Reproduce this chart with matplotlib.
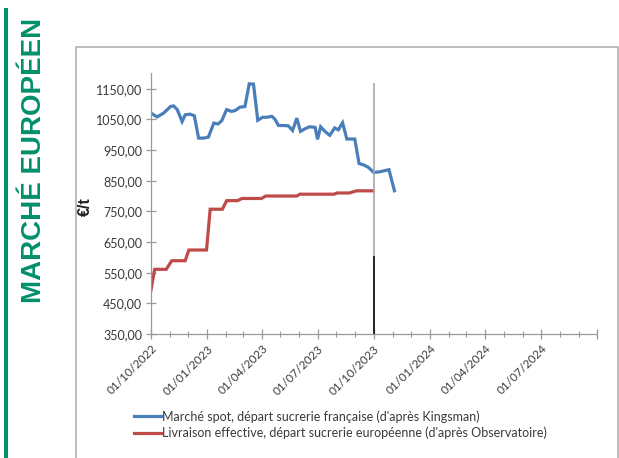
import numpy as np
import matplotlib
matplotlib.use("Agg")
import matplotlib.pyplot as plt
import matplotlib.dates as mdates
from matplotlib.lines import Line2D
from matplotlib.patches import Rectangle

# Marché spot (blue)
spot_dates = ["2022-10-03", "2022-10-11", "2022-10-22", "2022-11-02", "2022-11-07", "2022-11-13",
              "2022-11-21", "2022-11-26", "2022-12-04", "2022-12-11", "2022-12-18", "2022-12-26",
              "2023-01-03", "2023-01-12", "2023-01-19", "2023-01-25", "2023-02-02", "2023-02-10",
              "2023-02-16", "2023-02-24", "2023-03-04", "2023-03-11", "2023-03-18", "2023-03-25",
              "2023-04-02", "2023-04-09", "2023-04-17", "2023-04-22", "2023-04-28", "2023-05-06",
              "2023-05-14", "2023-05-21", "2023-05-28", "2023-06-03", "2023-06-10", "2023-06-18",
              "2023-06-27", "2023-07-01", "2023-07-06", "2023-07-13", "2023-07-21", "2023-07-29",
              "2023-08-04", "2023-08-11", "2023-08-18", "2023-08-31", "2023-09-07", "2023-09-14",
              "2023-09-22", "2023-10-01", "2023-10-11", "2023-10-26", "2023-11-04"]
spot_values = [1068, 1058, 1071, 1092, 1094, 1082,
               1043, 1065, 1067, 1062, 989, 989,
               992, 1038, 1035, 1046, 1082, 1076,
               1079, 1090, 1092, 1166, 1165, 1047,
               1057, 1057, 1060, 1051, 1030, 1030,
               1029, 1014, 1054, 1011, 1019, 1026,
               1024, 985, 1026, 1011, 998, 1022,
               1016, 1039, 986, 986, 906, 902,
               894, 877, 879, 886, 817]

# Livraison effective (red)
deliv_dates = ["2022-10-01", "2022-10-07", "2022-10-26", "2022-11-04", "2022-11-26", "2022-12-02",
               "2022-12-31", "2023-01-06", "2023-01-26", "2023-02-02", "2023-02-20", "2023-02-27",
               "2023-03-31", "2023-04-07", "2023-05-28", "2023-06-02", "2023-07-28", "2023-08-02",
               "2023-08-22", "2023-09-03", "2023-09-30"]
deliv_values = [493, 561, 561, 589, 589, 624,
                624, 757, 757, 785, 785, 792,
                792, 800, 800, 806, 806, 810,
                810, 817, 817]

y_ticks = [350, 450, 550, 650, 750, 850, 950, 1050, 1150]
x_ticks = ["2022-10-01", "2023-01-01", "2023-04-01", "2023-07-01", "2023-10-01",
           "2024-01-01", "2024-04-01", "2024-07-01"]
marker_date = "2023-10-01"

spot_label = "Marché spot, départ sucrerie française (d'après Kingsman)"
deliv_label = "Livraison effective, départ sucrerie européenne (d'après Observatoire)"

blue = "#4A7EBB"
red = "#BE4B48"
green = "#00906A"
grey_txt = "#3a3a3a"
grey_ax = "#9a9a9a"

plt.rcParams['font.family'] = ['Lato', 'DejaVu Sans']

fig = plt.figure(figsize=(6.19, 4.58), dpi=100)
W, H = 619, 458

# page decorations: green bar, vertical title, chart frame
fig.add_artist(Rectangle((4 / W, 0), 4 / W, 1 - 8 / H, transform=fig.transFigure,
                         color=green, lw=0))
fig.text(34 / W, 1 - 160 / H, "MARCHÉ EUROPÉEN", rotation=90, ha="center", va="center",
         color=green, fontsize=20, fontweight="bold",
         family=["Liberation Sans", "DejaVu Sans"])
fig.add_artist(Line2D([76 / W, 76 / W, 618 / W, 618 / W], [-0.1, 1 - 47 / H, 1 - 47 / H, -0.1],
                      transform=fig.transFigure, color="#b8b8b8", lw=1.3))

ax = fig.add_axes([151 / W, 1 - 334 / H, (597 - 151) / W, (334 - 73.4) / H])

sd = np.array(spot_dates, dtype="datetime64[D]")
dd = np.array(deliv_dates, dtype="datetime64[D]")
ax.plot(sd, spot_values, color=blue, lw=2.3, label=spot_label, solid_joinstyle="miter")
ax.plot(dd, deliv_values, color=red, lw=2.3, label=deliv_label, solid_joinstyle="miter")

# vertical marker at 01/10/2023
md = np.datetime64(marker_date)
ax.plot([md, md], [1165, 600], color="#a8a8a8", lw=1.2)
ax.plot([md, md], [600, 350], color="black", lw=1.2)

ax.set_xlim(np.datetime64("2022-10-01"), np.datetime64("2024-10-01"))
ax.set_ylim(350, 1200)

ax.set_yticks(y_ticks)
ax.set_yticklabels([f"{v:.2f}".replace(".", ",") for v in y_ticks])
xt = np.array(x_ticks, dtype="datetime64[D]")
ax.set_xticks(list(xt) + [np.datetime64("2024-10-01")])
labels = [np.datetime_as_string(d).split("-") for d in xt]
ax.set_xticklabels([f"{d[2]}/{d[1]}/{d[0]}" for d in labels] + [""])
ax.xaxis.set_minor_locator(mdates.MonthLocator())

ax.tick_params(axis="both", which="major", direction="inout", length=7, width=0.9,
               color=grey_ax, labelcolor=grey_txt, labelsize=9)
ax.tick_params(axis="x", which="major", labelsize=8.5)
ax.tick_params(axis="x", which="minor", direction="inout", length=4, width=0.8, color=grey_ax)
ax.tick_params(axis="y", pad=3)
ax.tick_params(axis="x", pad=3)

for lab in ax.get_xticklabels():
    lab.set_rotation(45)
    lab.set_ha("right")
    lab.set_rotation_mode("anchor")

for s in ["top", "right"]:
    ax.spines[s].set_visible(False)
for s in ["left", "bottom"]:
    ax.spines[s].set_color(grey_ax)
    ax.spines[s].set_linewidth(0.9)

ax.set_ylabel("€/t", fontweight="bold", fontsize=11.5, color="#202020",
              family=["Liberation Sans", "DejaVu Sans"])
ax.yaxis.set_label_coords(-0.13, 0.49)

fig.legend(loc="upper left", bbox_to_anchor=(128 / W, 1 - 404 / H), frameon=False,
           fontsize=9, handlelength=2.1, handletextpad=0.1, labelspacing=0.3,
           borderpad=0, labelcolor=grey_txt)

fig.savefig("out.png", dpi=100)
